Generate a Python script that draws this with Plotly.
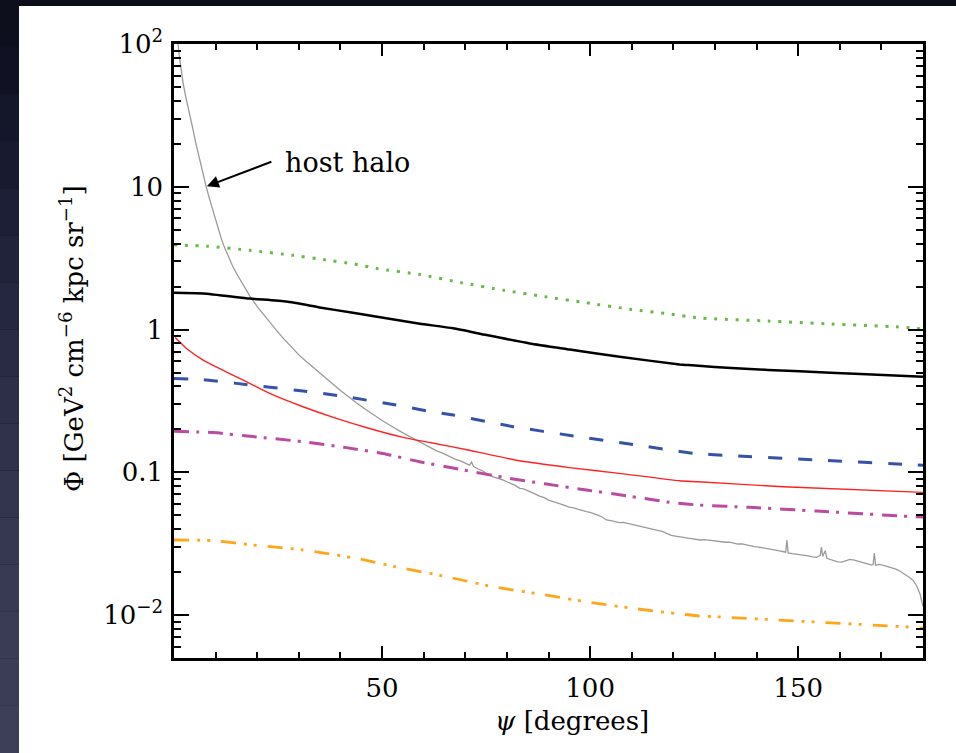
import math
import plotly.graph_objects as go

# ---------------- data ----------------
black_x = [0, 7, 18.2, 27, 35, 43, 51, 59.1, 67.1, 75.1, 85.5, 95.1, 107.1, 121.5, 124.5, 135, 150.4, 165, 180]
black_y = [1.81, 1.79, 1.65, 1.57, 1.43, 1.31, 1.20, 1.10, 1.02, 0.915, 0.80, 0.726, 0.645, 0.57, 0.562, 0.535, 0.51, 0.488, 0.467]

green_x = [0, 7.9, 18.2, 28.6, 36.2, 43, 49, 59.1, 69.1, 79.1, 89.1, 99.1, 109.5, 119.6, 124.8, 127.2, 142.8, 158, 173.6, 180]
green_y = [3.91, 3.84, 3.59, 3.31, 3.08, 2.89, 2.67, 2.43, 2.13, 1.89, 1.70, 1.54, 1.39, 1.28, 1.22, 1.20, 1.147, 1.093, 1.046, 1.01]

blue_x = [0, 7, 15, 31, 39.8, 53.4, 60.7, 67.1, 81.5, 96, 110.3, 124.8, 132.8, 154.4, 177.6, 180]
blue_y = [0.455, 0.445, 0.42, 0.371, 0.344, 0.296, 0.27, 0.252, 0.209, 0.18, 0.157, 0.136, 0.1315, 0.122, 0.113, 0.112]

red_x = [0.3, 3, 7, 11, 15, 19, 23, 31, 39, 47, 55, 61.5, 71, 83, 95, 107, 121.5, 126, 146.4, 180]
red_y = [0.88, 0.738, 0.612, 0.532, 0.467, 0.409, 0.357, 0.288, 0.239, 0.203, 0.176, 0.162, 0.143, 0.1205, 0.108, 0.0984, 0.0873, 0.086, 0.0793, 0.0724]

magenta_x = [0, 9.4, 19, 31, 41.4, 51, 59, 68.7, 79.1, 89.5, 99.1, 108.7, 120, 126.3, 138.4, 154.4, 178, 180]
magenta_y = [0.194, 0.19, 0.178, 0.164, 0.149, 0.134, 0.1187, 0.105, 0.0923, 0.0828, 0.0752, 0.0686, 0.0612, 0.059, 0.0569, 0.0536, 0.0489, 0.0487]

orange_x = [0, 9, 19, 31, 43.8, 54.3, 65.5, 76.7, 87.9, 99.1, 110.3, 121.5, 126.3, 130.3, 149.6, 178.3, 180]
orange_y = [0.0336, 0.0333, 0.031, 0.0286, 0.025, 0.0215, 0.0186, 0.0158, 0.01406, 0.0124, 0.01116, 0.0102, 0.00986, 0.00975, 0.0091, 0.0082, 0.0081]

host_x = [0.6, 1.0, 1.4, 1.8, 2.2, 2.8, 3.4, 4.0, 4.6, 5.2, 5.8, 6.4, 7.0, 7.7, 8.4, 9.1, 9.8, 10.6, 11.4, 12.2,
          13.0, 14.0, 15.0, 16.5, 18.2, 20.0, 22.0, 24.0, 26.0, 28.0, 30.0, 32.0, 34.2, 36.0, 38.0, 40.0, 42.2, 43.8,
          46.0, 48.0, 50.0, 52.0, 53.4, 55.0, 57.0, 59.0, 61.5, 63.0, 64.7, 66.0, 67.5, 69.0, 70.0, 71.0, 71.5, 72.0,
          73.0, 74.0, 75.0, 76.0, 76.7, 78.0, 79.0, 80.0, 81.0, 82.0, 83.1, 84.0, 85.0, 86.0, 87.0, 88.0, 89.0, 90.0,
          91.1, 92.0, 93.0, 94.0, 95.0, 96.0, 97.0, 98.0, 99.1, 100.0, 101.0, 102.0, 103.0, 103.9, 105.0, 106.0,
          107.0, 108.0, 109.0, 110.0, 111.1, 112.0, 113.0, 114.3, 115.5, 116.5, 117.5, 118.5, 119.5, 120.5, 121.5,
          122.5, 123.5, 124.5, 125.5, 126.5, 127.5, 128.5, 129.5, 130.4, 131.5, 132.5, 133.5, 134.5, 135.5, 136.5,
          137.5, 138.5, 139.5, 140.5, 141.5, 142.4, 143.5, 144.5, 145.5, 146.5, 147.0, 147.3, 147.6, 148.5, 149.5,
          150.5, 151.5, 152.5, 153.5, 154.4, 155.3, 155.6, 155.9, 156.5, 156.9, 157.5, 158.5, 159.5, 160.5, 161.5,
          162.4, 163.5, 164.5, 165.5, 166.5, 167.5, 168.0, 168.3, 168.6, 169.5, 170.5, 171.5, 172.5, 173.5, 174.5,
          175.5, 176.5, 177.6, 178.5, 179.3, 180.0]
host_y = [115, 98, 77, 63, 53, 43, 36.3, 30, 24.9, 20.5, 17.1, 14.2, 11.9, 10.1, 8.5, 7.2, 6.05, 5.05, 4.3, 3.72,
          3.25, 2.82, 2.48, 2.08, 1.72, 1.45, 1.22, 1.04, 0.885, 0.765, 0.665, 0.59, 0.52, 0.47, 0.42, 0.375, 0.335, 0.307,
          0.277, 0.252, 0.231, 0.213, 0.201, 0.189, 0.176, 0.164, 0.150, 0.142, 0.136, 0.13, 0.124, 0.120, 0.116, 0.1125, 0.118, 0.110,
          0.106, 0.103, 0.0985, 0.096, 0.093, 0.091, 0.0885, 0.0860, 0.0835, 0.0810, 0.0773, 0.0765, 0.0745, 0.0720, 0.0695, 0.0680, 0.0665, 0.0640,
          0.0623, 0.0615, 0.0600, 0.0585, 0.0570, 0.0565, 0.0552, 0.0545, 0.0530, 0.0525, 0.0515, 0.0500, 0.0485, 0.0464, 0.0460, 0.0452,
          0.0445, 0.0447, 0.0440, 0.0432, 0.0428, 0.0421, 0.0414, 0.0405, 0.0398, 0.0392, 0.0384, 0.0372, 0.0362, 0.0358, 0.0352,
          0.0350, 0.0346, 0.0343, 0.0339, 0.0336, 0.0338, 0.0335, 0.0334, 0.0332, 0.0327, 0.0324, 0.0325, 0.0318, 0.0315, 0.0316,
          0.0310, 0.0306, 0.0302, 0.0300, 0.0297, 0.0294, 0.0290, 0.0286, 0.0282, 0.0278, 0.0276, 0.0335, 0.0273, 0.0270, 0.0268,
          0.0265, 0.0262, 0.0260, 0.0256, 0.0254, 0.0262, 0.0300, 0.0258, 0.0283, 0.0250, 0.0246, 0.0240, 0.0236, 0.0235, 0.0242,
          0.0246, 0.0243, 0.0238, 0.0233, 0.0229, 0.0225, 0.0226, 0.0272, 0.0224, 0.0227, 0.0223, 0.0219, 0.0216, 0.0210, 0.0203,
          0.0195, 0.0186, 0.0176, 0.0160, 0.0140, 0.0115]

x_tickvals = [50, 100, 150]
x_ticktext = ["50", "100", "150"]
y_tickvals = [0.01, 0.1, 1, 10, 100]
y_ticktext = ["10<sup>−2</sup>", "0.1", "1", "10", "10<sup>2</sup>"]

# ---------------- layout geometry ----------------
W, H = 956, 753
L, R, T, B = 174, 33, 44, 95
PW, PH = W - L - R, H - T - B


def px_x(px):
    return (px - L) / PW


def px_y(py):
    return (H - B - py) / PH


FONT = "DejaVu Serif"

fig = go.Figure()

fig.add_trace(go.Scatter(x=host_x, y=host_y, mode="lines", line=dict(color="#9a9a9a", width=1.3), showlegend=False))
fig.add_trace(go.Scatter(x=green_x, y=green_y, mode="lines",
                         line=dict(color="#66bb44", width=3, dash="3px,7.7px", shape="spline", smoothing=0.5), showlegend=False))
fig.add_trace(go.Scatter(x=black_x, y=black_y, mode="lines",
                         line=dict(color="black", width=2.5, shape="spline", smoothing=0.5), showlegend=False))
fig.add_trace(go.Scatter(x=blue_x, y=blue_y, mode="lines",
                         line=dict(color="#3452a8", width=3, dash="14px,16px", shape="spline", smoothing=0.5), showlegend=False))
fig.add_trace(go.Scatter(x=red_x, y=red_y, mode="lines",
                         line=dict(color="#ff2222", width=1.4, shape="spline", smoothing=0.5), showlegend=False))
fig.add_trace(go.Scatter(x=magenta_x, y=magenta_y, mode="lines",
                         line=dict(color="#bb4aa0", width=3, dash="15px,7px,3px,9px", shape="spline", smoothing=0.5), showlegend=False))
fig.add_trace(go.Scatter(x=orange_x, y=orange_y, mode="lines",
                         line=dict(color="#ffa51a", width=2.8, dash="15px,8px,3px,7px,3px,11px", shape="spline", smoothing=0.5), showlegend=False))

# background: dark slide with white panel
shapes = []
strip_cols = ["#0d0f1d", "#101224", "#14162a", "#181b30", "#1c1f35", "#20233a", "#24273f", "#282b43", "#2c2f47",
              "#2f324a", "#32354d", "#353850", "#383a53", "#3a3c55", "#3b3d57", "#3d3f58"]
n = len(strip_cols)
for i, c in enumerate(strip_cols):
    y0 = i * H / n
    y1 = (i + 1) * H / n
    shapes.append(dict(type="rect", xref="paper", yref="paper", layer="below",
                       x0=px_x(0), x1=px_x(19), y0=px_y(y1), y1=px_y(y0),
                       fillcolor=c, line=dict(width=0)))
shapes.append(dict(type="rect", xref="paper", yref="paper", layer="below",
                   x0=px_x(19), x1=px_x(W + 2), y0=px_y(H + 2), y1=px_y(6),
                   fillcolor="white", line=dict(width=0)))

annotations = [
    dict(x=7.9, y=math.log10(10.1), xref="x", yref="y", text="", showarrow=True,
         ax=66, ay=-25, arrowhead=2, arrowsize=1.2, arrowwidth=2, arrowcolor="black", standoff=0),
    dict(x=26.1, y=1.168, xref="x", yref="y", text="host halo", showarrow=False,
         xanchor="left", yanchor="middle", font=dict(family=FONT, size=27, color="black")),
    dict(x=px_x(72), y=px_y(339), xref="paper", yref="paper", textangle=-90, showarrow=False,
         text="Φ [GeV<sup>2</sup> cm<sup>−6</sup> kpc sr<sup>−1</sup>]",
         xanchor="center", yanchor="middle", font=dict(family=FONT, size=26, color="black")),
    dict(x=px_x(572), y=px_y(721), xref="paper", yref="paper", showarrow=False,
         text="<i>ψ</i> [degrees]",
         xanchor="center", yanchor="middle", font=dict(family=FONT, size=26, color="black")),
]

fig.update_layout(
    width=W, height=H,
    margin=dict(l=L, r=R, t=T, b=B, autoexpand=False),
    paper_bgcolor="#0b0d19",
    plot_bgcolor="white",
    shapes=shapes,
    annotations=annotations,
    showlegend=False,
    font=dict(family=FONT, size=26, color="black"),
)

fig.update_xaxes(
    range=[0, 180], showgrid=False, zeroline=False,
    showline=True, linecolor="black", linewidth=2.5, mirror="allticks",
    ticks="inside", ticklen=12, tickwidth=2, tickcolor="black",
    tickmode="array", tickvals=x_tickvals, ticktext=x_ticktext,
    tickfont=dict(family=FONT, size=26, color="black"),
    ticklabelstandoff=5,
    minor=dict(ticks="inside", ticklen=6, tickwidth=2, tickcolor="black", tickmode="linear", tick0=0, dtick=10, showgrid=False),
)
fig.update_yaxes(
    type="log", range=[-2.3, 2.0], showgrid=False, zeroline=False,
    showline=True, linecolor="black", linewidth=2.5, mirror="allticks",
    ticks="inside", ticklen=15, tickwidth=2, tickcolor="black",
    tickmode="array", tickvals=y_tickvals, ticktext=y_ticktext,
    tickfont=dict(family=FONT, size=26, color="black"),
    ticklabelstandoff=3,
    minor=dict(ticks="inside", ticklen=7, tickwidth=2, tickcolor="black", dtick="D1", showgrid=False),
)

fig.write_html("out.html",
               config={"displayModeBar": False},
               post_script="document.body.style.margin='0px';document.body.style.overflow='hidden';")
